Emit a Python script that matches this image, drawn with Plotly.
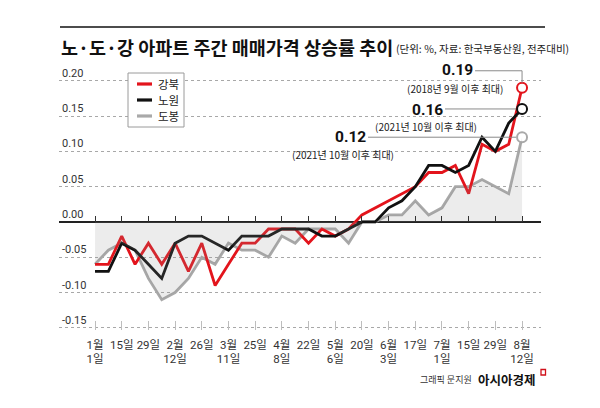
import plotly.graph_objects as go

# ---------------- data ----------------
tick_labels = ["1월<br>1일", "15일", "29일", "2월<br>12일", "26일", "3월<br>11일", "25일",
               "4월<br>8일", "22일", "5월<br>6일", "20일", "6월<br>3일", "17일", "7월<br>1일",
               "15일", "29일", "8월<br>12일"]

gangbuk = [-0.06, -0.06, -0.02, -0.06, -0.03, -0.06, -0.03, -0.07, -0.03, -0.09, -0.06,
           -0.03, -0.03, -0.01, -0.01, -0.01, -0.03, -0.01, -0.02, -0.01, 0.01, 0.02,
           0.03, 0.04, 0.05, 0.07, 0.07, 0.08, 0.04, 0.11, 0.10, 0.11, 0.19]
nowon = [-0.07, -0.07, -0.03, -0.04, -0.06, -0.08, -0.03, -0.02, -0.02, -0.03, -0.04,
         -0.02, -0.02, -0.02, -0.01, -0.01, -0.01, -0.02, -0.02, -0.01, 0.00, 0.00,
         0.02, 0.03, 0.05, 0.08, 0.08, 0.07, 0.08, 0.12, 0.10, 0.14, 0.16]
dobong = [-0.06, -0.04, -0.03, -0.04, -0.08, -0.11, -0.10, -0.08, -0.05, -0.06, -0.03,
          -0.04, -0.04, -0.05, -0.02, -0.03, -0.01, -0.01, -0.01, -0.03, 0.00, 0.00,
          0.01, 0.01, 0.03, 0.01, 0.02, 0.05, 0.05, 0.06, 0.05, 0.04, 0.12]

series_names = ["강북", "노원", "도봉"]
peak_notes = ["(2018년 9월 이후 최대)", "(2021년 10월 이후 최대)", "(2021년 10월 이후 최대)"]

y_ticks = [0.20, 0.15, 0.10, 0.05, 0.00, -0.05, -0.10, -0.15]
y_tick_text = ["0.20", "0.15", "0.10", "0.05", "0.00", "-0.05", "-0.10", "-0.15"]

title_text = "노·도·강 아파트 주간 매매가격 상승률 추이"
subtitle_text = "(단위: %, 자료: 한국부동산원, 전주대비)"
credit_text = "그래픽 문지원"
brand_text = "아시아경제"

# ---------------- styles ----------------
RED, BLACK, GRAY = "#e3141c", "#111111", "#a9a9a9"
colors = [RED, BLACK, GRAY]
KR = "Noto Sans CJK KR, sans-serif"
NUM = "Roboto, Noto Sans CJK KR, sans-serif"

weeks = list(range(len(gangbuk)))
tick_pos = weeks[::2]
y_lo, y_hi = -0.153, 0.235
zero_pos = (0 - y_lo) / (y_hi - y_lo)

fig = go.Figure()

# shaded area under 도봉 (on overlay axis that carries the zero-line ticks)
fig.add_trace(go.Scatter(x=weeks, y=dobong, mode="lines", fill="tozeroy",
                         fillcolor="rgba(140,140,140,0.17)", line=dict(width=0),
                         xaxis="x2", hoverinfo="skip", showlegend=False))

all_series = [gangbuk, nowon, dobong]
for idx in [2, 0, 1]:
    fig.add_trace(go.Scatter(x=weeks, y=all_series[idx], mode="lines",
                             line=dict(color=colors[idx], width=2.8),
                             name=series_names[idx], showlegend=False))
for idx in [2, 0, 1]:
    fig.add_trace(go.Scatter(x=[weeks[-1]], y=[all_series[idx][-1]], mode="markers",
                             marker=dict(size=10, color="white",
                                         line=dict(color=colors[idx], width=2)),
                             showlegend=False, hoverinfo="skip"))

annotations = []
shapes = []

# value call-outs (offsets in pixels relative to the last point)
label_offsets = [(-65, 18), (-95, -1), (-172, 0)]
note_offsets = [(-67, -1), (-96, -18), (-179, -17)]
for idx, s in enumerate(all_series):
    lx, ly = label_offsets[idx]
    nx, ny = note_offsets[idx]
    annotations.append(dict(x=weeks[-1], y=s[-1], xref="x", yref="y", xshift=lx, yshift=ly,
                            text=f"<b>{s[-1]:.2f}</b>", showarrow=False, borderpad=0,
                            font=dict(family=NUM, size=15.5, color="#111")))
    annotations.append(dict(x=weeks[-1], y=s[-1], xref="x", yref="y", xshift=nx, yshift=ny,
                            text=peak_notes[idx], showarrow=False, borderpad=0,
                            font=dict(family=KR, size=10, color="#222")))
# leader lines
shapes.append(dict(type="path", xref="x", yref="y", xsizemode="pixel", ysizemode="pixel",
                   xanchor=weeks[-1], yanchor=gangbuk[-1],
                   path="M -47,17 L 0,17 L 0,5", line=dict(color="#8a8a8a", width=1)))
shapes.append(dict(type="line", xref="x", yref="y", xsizemode="pixel", ysizemode="pixel",
                   xanchor=weeks[-1], yanchor=nowon[-1], x0=-77, x1=-6, y0=0, y1=0,
                   line=dict(color="#8a8a8a", width=1)))
shapes.append(dict(type="line", xref="x", yref="y", xsizemode="pixel", ysizemode="pixel",
                   xanchor=weeks[-1], yanchor=dobong[-1], x0=-154, x1=-6, y0=0, y1=0,
                   line=dict(color="#8a8a8a", width=1)))

# plot geometry helpers (pixel -> paper)
L, R, T, B = 59, 59, 56, 78
W, H = 600, 408
pw, ph = W - L - R, H - T - B
def px(x):
    return (x - L) / pw
def py(y):
    return (H - B - y) / ph

# manual legend
shapes.append(dict(type="rect", xref="paper", yref="paper", x0=px(128), x1=px(184),
                   y0=py(127), y1=py(73), line=dict(color="#9a9a9a", width=1),
                   fillcolor="white", layer="above"))
legend_rows = [84, 100, 116]
for idx in range(3):
    shapes.append(dict(type="line", xref="paper", yref="paper", x0=px(137), x1=px(152),
                       y0=py(legend_rows[idx]), y1=py(legend_rows[idx]),
                       line=dict(color=colors[idx], width=3.2)))
    annotations.append(dict(x=px(157), y=py(legend_rows[idx]), xref="paper", yref="paper",
                            xanchor="left", yanchor="middle", text=series_names[idx],
                            showarrow=False, borderpad=0,
                            font=dict(family=KR, size=11.5, color="#222")))

# title block
shapes.append(dict(type="line", xref="paper", yref="paper", x0=px(60), x1=px(545),
                   y0=py(27), y1=py(27), line=dict(color="#111", width=1.5)))
annotations.append(dict(x=px(59), y=py(47), xref="paper", yref="paper", xanchor="left",
                        yanchor="middle", text=f"<b>{title_text}</b>", showarrow=False,
                        font=dict(family=KR, size=18.5, color="#111")))
annotations.append(dict(x=px(394), y=py(49), xref="paper", yref="paper", xanchor="left",
                        yanchor="middle", text=subtitle_text, showarrow=False,
                        font=dict(family=KR, size=10.5, color="#222")))

# footer
annotations.append(dict(x=px(474), y=py(379), xref="paper", yref="paper", xanchor="right",
                        yanchor="middle", text=credit_text, showarrow=False,
                        font=dict(family=KR, size=9, color="#333")))
annotations.append(dict(x=px(538), y=py(379), xref="paper", yref="paper", xanchor="right",
                        yanchor="middle", text=f"<b>{brand_text}</b>", showarrow=False,
                        font=dict(family=KR, size=12.5, color="#111")))
shapes.append(dict(type="rect", xref="paper", yref="paper", x0=px(541), x1=px(545.5),
                   y0=py(375), y1=py(369.5), line=dict(color="#d0101a", width=1.3)))

fig.update_layout(
    width=W, height=H,
    margin=dict(l=L, r=R, t=T, b=B),
    paper_bgcolor="white", plot_bgcolor="white",
    showlegend=False,
    xaxis=dict(range=[-2.7, 33.42], tickmode="array", tickvals=tick_pos, ticktext=tick_labels,
               ticks="inside", ticklen=9, tickcolor="#bdbdbd", tickwidth=1,
               ticklabelstandoff=6,
               showgrid=False, zeroline=False, showline=False, automargin=False,
               tickfont=dict(family=NUM, size=11.5, color="#333")),
    xaxis2=dict(overlaying="x", matches="x", anchor="free", position=zero_pos, side="top",
                tickmode="array", tickvals=tick_pos, ticks="outside", ticklen=6,
                tickcolor="#333", tickwidth=1, showticklabels=False, automargin=False,
                showgrid=False, zeroline=False, showline=False),
    yaxis=dict(range=[y_lo, y_hi], tickmode="array", tickvals=y_ticks,
               ticktext=y_tick_text, ticklabelposition="inside top", automargin=False,
               showgrid=True, gridcolor="#a8a8a8", griddash="dot", gridwidth=1,
               zeroline=True, zerolinecolor="#222", zerolinewidth=1.5,
               showline=False, ticks="",
               tickfont=dict(family=NUM, size=11, color="#333")),
    annotations=annotations,
    shapes=shapes,
)

fig.write_html("out.html", config={"displayModeBar": False},
               post_script="document.body.style.margin='0';document.body.style.overflow='hidden';")
